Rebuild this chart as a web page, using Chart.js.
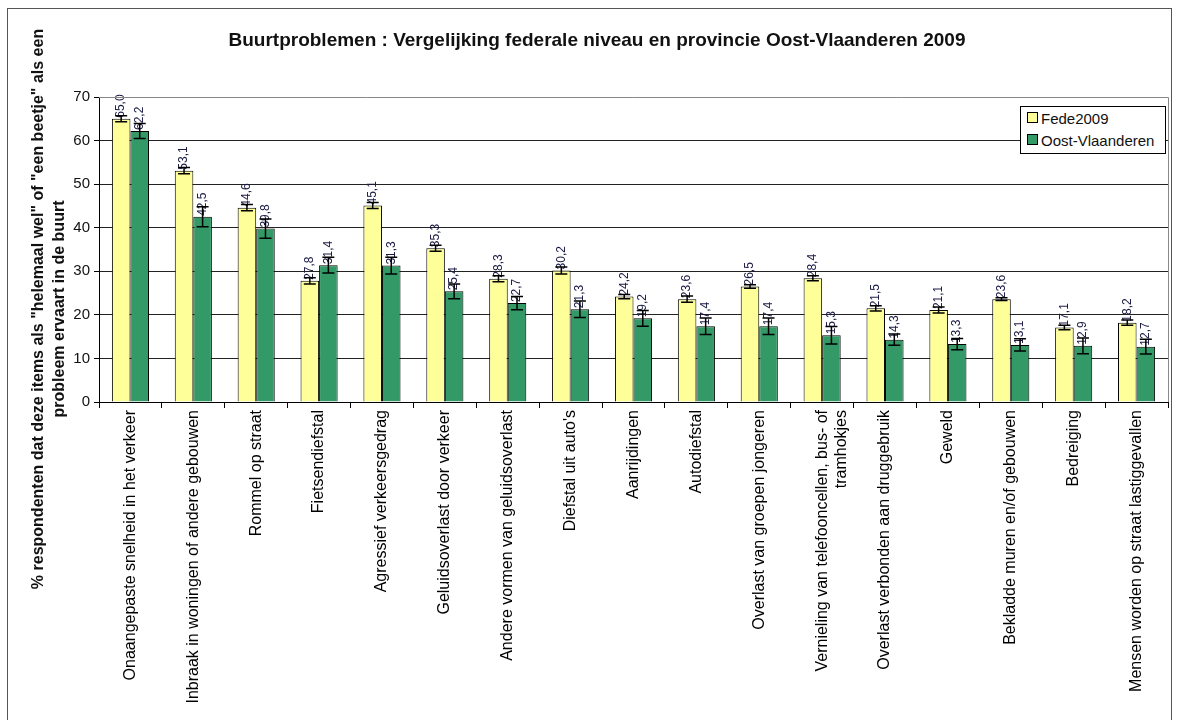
<!DOCTYPE html>
<html>
<head>
<meta charset="utf-8">
<script src="https://cdn.jsdelivr.net/npm/chart.js@4.4.1/dist/chart.umd.min.js"></script>
<style>
  body { margin: 0; background: #fff; overflow: hidden; }
  #wrap { position: relative; width: 1178px; height: 720px; }
  #frame { position: absolute; left: 7px; top: 8px; width: 1163px; height: 760px; border: 1px solid #555; }
  #chart { position: absolute; left: 0; top: 0; }
  #legend {
    position: absolute; left: 1020px; top: 106px; width: 144px; height: 46px;
    border: 1px solid #000; background: #fff;
    font: 15px "Liberation Sans", Arial, sans-serif; color: #111;
  }
  #legend div { position: absolute; left: 6px; white-space: nowrap; line-height: 18px; }
  #legend span { display: inline-block; width: 9px; height: 9px; border: 1px solid #000; margin-right: 3px; vertical-align: 1px; }
</style>
</head>
<body>
<div id="wrap">
  <div id="frame"></div>
  <canvas id="chart" width="1178" height="720"></canvas>
  <div id="legend">
    <div style="top:3px"><span style="background:#FFFF99"></span>Fede2009</div>
    <div style="top:25px"><span style="background:#339966"></span>Oost-Vlaanderen</div>
  </div>
</div>
<script>
const categories = [
    'Onaangepaste snelheid in het verkeer',
    'Inbraak in woningen of andere gebouwen',
    'Rommel op straat',
    'Fietsendiefstal',
    'Agressief verkeersgedrag',
    'Geluidsoverlast door verkeer',
    'Andere vormen van geluidsoverlast',
    "Diefstal uit auto's",
    'Aanrijdingen',
    'Autodiefstal',
    'Overlast van groepen jongeren',
    ['Vernieling van telefooncellen, bus- of', 'tramhokjes'],
    'Overlast verbonden aan druggebruik',
    'Geweld',
    'Bekladde muren en/of gebouwen',
    'Bedreiging',
    'Mensen worden op straat lastiggevallen'
];
const seriesNames = ['Fede2009', 'Oost-Vlaanderen'];
const fede2009 = [65.0, 53.1, 44.6, 27.8, 45.1, 35.3, 28.3, 30.2, 24.2, 23.6, 26.5, 28.4, 21.5, 21.1, 23.6, 17.1, 18.2];
const oostVlaanderen = [62.2, 42.5, 39.8, 31.4, 31.3, 25.4, 22.7, 21.3, 19.2, 17.4, 17.4, 15.3, 14.3, 13.3, 13.1, 12.9, 12.7];
// half width of the error bars
const fedeErr = [0.7, 0.7, 0.7, 0.7, 0.7, 0.7, 0.7, 0.8, 0.5, 0.7, 0.4, 0.6, 0.6, 0.7, 0.3, 0.5, 0.6];
const oostErr = [1.7, 2.3, 2.2, 1.8, 1.9, 1.7, 1.5, 1.9, 1.8, 1.9, 1.9, 2.0, 1.3, 1.3, 1.4, 1.8, 1.7];
const yTicks = [0, 10, 20, 30, 40, 50, 60, 70];

const titleText = 'Buurtproblemen : Vergelijking federale niveau en provincie Oost-Vlaanderen 2009';
const yTitle = ['% respondenten dat deze items als "helemaal wel" of "een beetje" als een', 'probleem ervaart in de buurt'];

const FONT = '"Liberation Sans", Arial, sans-serif';

const extras = {
    id: 'extras',
    afterDatasetsDraw(chart) {
        const ctx = chart.ctx;
        const y = chart.scales.y;
        const errs = [fedeErr, oostErr];

        // value labels, rotated
        ctx.save();
        ctx.fillStyle = '#1a1a44';
        ctx.font = '12px ' + FONT;
        chart.data.datasets.forEach((ds, i) => {
            chart.getDatasetMeta(i).data.forEach((bar, j) => {
                ctx.save();
                ctx.translate(bar.x, bar.y - 1);
                ctx.rotate(-Math.PI / 2);
                ctx.textAlign = 'left';
                ctx.textBaseline = 'middle';
                ctx.fillText(ds.data[j].toFixed(1).replace('.', ','), 0, 0);
                ctx.restore();
            });
        });
        ctx.restore();

        // error bars
        ctx.save();
        ctx.strokeStyle = '#000';
        ctx.lineWidth = 1.5;
        chart.data.datasets.forEach((ds, i) => {
            chart.getDatasetMeta(i).data.forEach((bar, j) => {
                const top = y.getPixelForValue(ds.data[j] + errs[i][j]);
                const bot = y.getPixelForValue(ds.data[j] - errs[i][j]);
                const cap = 6;
                ctx.beginPath();
                ctx.moveTo(bar.x, top); ctx.lineTo(bar.x, bot);
                ctx.moveTo(bar.x - cap, top); ctx.lineTo(bar.x + cap, top);
                ctx.moveTo(bar.x - cap, bot); ctx.lineTo(bar.x + cap, bot);
                ctx.stroke();
            });
        });
        ctx.restore();
    },
    afterDraw(chart) {
        const ctx = chart.ctx;
        const a = chart.chartArea;
        // plot area border top / right
        ctx.save();
        ctx.strokeStyle = '#888';
        ctx.lineWidth = 1;
        ctx.beginPath();
        ctx.moveTo(a.left, a.top + 0.5); ctx.lineTo(a.right + 0.5, a.top + 0.5);
        ctx.lineTo(a.right + 0.5, a.bottom);
        ctx.stroke();

        // title
        ctx.fillStyle = '#111';
        ctx.font = 'bold 19px ' + FONT;
        ctx.textAlign = 'center';
        ctx.textBaseline = 'middle';
        ctx.fillText(titleText, 597, 41);

        // y axis title
        ctx.font = 'bold 16px ' + FONT;
        ctx.translate(0, 309);
        ctx.rotate(-Math.PI / 2);
        ctx.fillText(yTitle[0], 0, 39);
        ctx.fillText(yTitle[1], 0, 60);
        ctx.restore();
    }
};

new Chart(document.getElementById('chart'), {
    type: 'bar',
    data: {
        labels: categories,
        datasets: [{
            label: seriesNames[0],
            data: fede2009,
            backgroundColor: '#FFFF99',
            borderColor: '#000',
            borderWidth: 1,
            categoryPercentage: 0.59,
            barPercentage: 1
        }, {
            label: seriesNames[1],
            data: oostVlaanderen,
            backgroundColor: '#339966',
            borderColor: '#000',
            borderWidth: 1,
            categoryPercentage: 0.59,
            barPercentage: 1
        }]
    },
    options: {
        responsive: false,
        animation: false,
        devicePixelRatio: 1,
        layout: { padding: { top: 97, right: 10, left: 0, bottom: 0 } },
        plugins: {
            legend: { display: false },
            tooltip: { enabled: false }
        },
        scales: {
            x: {
                grid: { offset: true, drawOnChartArea: false, color: '#000', tickLength: 6 },
                border: { color: '#000' },
                ticks: {
                    autoSkip: false, minRotation: 90, maxRotation: 90,
                    color: '#000', padding: 2,
                    font: { family: FONT, size: 16 }
                },
                afterFit(s) { s.height = 318; }
            },
            y: {
                min: 0, max: 70,
                afterBuildTicks(s) { s.ticks = yTicks.map(v => ({ value: v })); },
                grid: {
                    color: c => (c.tick && c.tick.value === 70) ? 'rgba(0,0,0,0)' : '#222',
                    tickColor: '#000', tickLength: 5
                },
                border: { color: '#000' },
                ticks: { color: '#111', padding: 4, font: { family: FONT, size: 15 } },
                afterFit(s) { s.width = 99; }
            }
        }
    },
    plugins: [extras]
});
</script>
</body>
</html>
